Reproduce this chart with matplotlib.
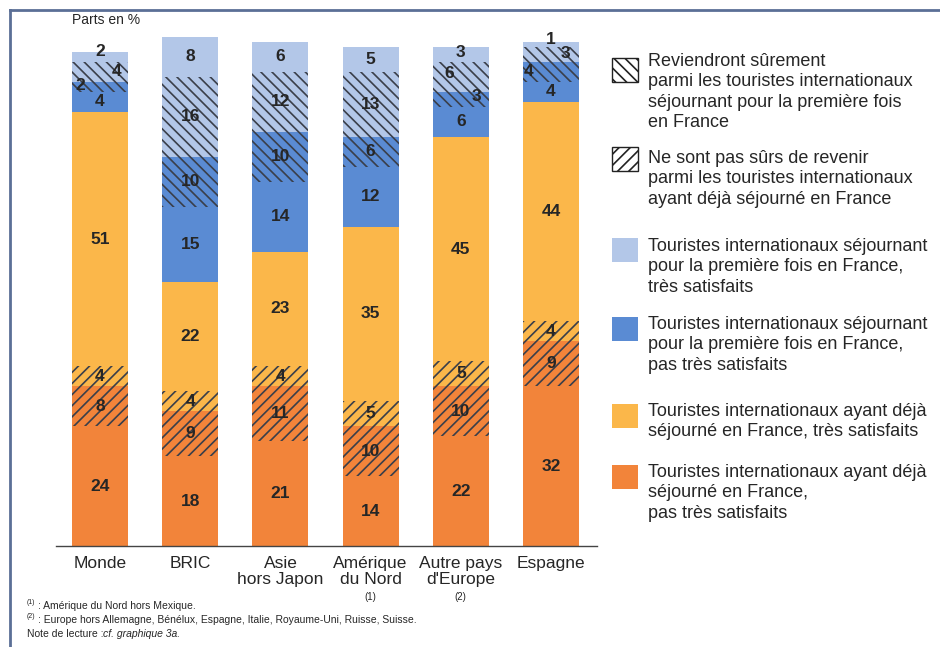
import matplotlib.pyplot as plt
from matplotlib.patches import Rectangle

plt.rcParams['font.family'] = ['Liberation Sans', 'DejaVu Sans']
plt.rcParams['hatch.linewidth'] = 1.2

# regions (x axis)
regions = ['Monde', 'BRIC', 'Asie\nhors Japon', 'Amérique\ndu Nord',
           "Autre pays\nd'Europe", 'Espagne']
region_notes = ['', '', '', '(1)', '(2)', '']

# stacked shares in %, bottom to top
deja_pas_sat = [24, 18, 21, 14, 22, 32]
deja_pas_sat_incertain = [8, 9, 11, 10, 10, 9]
deja_sat_incertain = [4, 4, 4, 5, 5, 4]
deja_sat = [51, 22, 23, 35, 45, 44]
prem_pas_sat = [4, 15, 14, 12, 6, 4]
prem_pas_sat_surement = [2, 10, 10, 6, 3, 4]
prem_sat_surement = [4, 16, 12, 13, 6, 3]
prem_sat = [2, 8, 6, 5, 3, 1]

C_ORANGE = '#f2843a'
C_YELLOW = '#fbb74a'
C_BLUE = '#5a8bd3'
C_LBLUE = '#b3c7e8'
HATCH_COL = '#3a3f4a'
TXT = '#262626'

segments = [
    (deja_pas_sat, C_ORANGE, None),
    (deja_pas_sat_incertain, C_ORANGE, '///'),
    (deja_sat_incertain, C_YELLOW, '///'),
    (deja_sat, C_YELLOW, None),
    (prem_pas_sat, C_BLUE, None),
    (prem_pas_sat_surement, C_BLUE, '\\\\\\'),
    (prem_sat_surement, C_LBLUE, '\\\\\\'),
    (prem_sat, C_LBLUE, None),
]

# label nudges (pixels) for the thin segments at the top of some bars
nudges = {
    (0, 7): (0, 5), (0, 6): (17, 0), (0, 5): (-20, 1),
    (4, 7): (0, 2), (4, 6): (-12, 3), (4, 5): (16, 3),
    (5, 7): (0, 5), (5, 6): (14, 1), (5, 5): (-22, 0),
}

fig = plt.figure(figsize=(9.4, 6.47), dpi=100)
ax = fig.add_axes([56 / 940, 101 / 647, 541 / 940, 499 / 647])

x = list(range(len(regions)))
bottom = [0] * len(regions)
for k, (vals, col, hatch) in enumerate(segments):
    ax.bar(x, vals, 0.62, bottom=bottom, color=col, hatch=hatch,
           edgecolor=HATCH_COL if hatch else col, linewidth=0, clip_on=False)
    for i, v in enumerate(vals):
        dx, dy = nudges.get((i, k), (0, 0))
        ax.annotate(str(v), (i, bottom[i] + v / 2), xytext=(dx, dy),
                    textcoords='offset pixels', ha='center', va='center',
                    fontsize=12.5, fontweight='bold', color=TXT,
                    annotation_clip=False)
    bottom = [b + v for b, v in zip(bottom, vals)]

ax.set_xlim(-0.488, 5.51)
ax.set_ylim(0, 100)
for s in ['top', 'right', 'left']:
    ax.spines[s].set_visible(False)
ax.spines['bottom'].set_color('#444444')
ax.spines['bottom'].set_linewidth(1.0)
ax.set_yticks([])
ax.set_xticks(x)
ax.set_xticklabels(regions, fontsize=12.5, color=TXT, linespacing=1.12, va='top')
ax.tick_params(axis='x', length=0, pad=7)
for i, note in enumerate(region_notes):
    if note:
        ax.annotate(note, (i, 0), xycoords=('data', 'axes fraction'),
                    xytext=(0, -51), textcoords='offset pixels',
                    ha='center', va='center', fontsize=7, color=TXT)

# overlay in pixel coordinates for frame, legend and notes
lay = fig.add_axes([0, 0, 1, 1], zorder=-1)
lay.set_xlim(0, 940)
lay.set_ylim(647, 0)
lay.axis('off')
lay.plot([10, 940], [10, 10], color='#5b6f96', lw=2)
lay.plot([10, 10], [10, 647], color='#5b6f96', lw=2)

fig.text(72 / 940, 1 - 20 / 647, 'Parts en %', fontsize=10, color=TXT,
         va='center')

leg = fig.add_axes([0, 0, 1, 1], zorder=2)
leg.set_xlim(0, 940)
leg.set_ylim(647, 0)
leg.axis('off')
# (box top, first text line centre, colour, hatch, label)
legend_items = [
    (58, 60, 'white', '\\\\\\', 'Reviendront sûrement\nparmi les touristes internationaux\n'
                               'séjournant pour la première fois\nen France'),
    (147, 157, 'white', '///', 'Ne sont pas sûrs de revenir\nparmi les touristes internationaux\n'
                              'ayant déjà séjourné en France'),
    (238, 245, C_LBLUE, None, 'Touristes internationaux séjournant\npour la première fois en France,\n'
                              'très satisfaits'),
    (317, 323, C_BLUE, None, 'Touristes internationaux séjournant\npour la première fois en France,\n'
                             'pas très satisfaits'),
    (404, 410, C_YELLOW, None, 'Touristes internationaux ayant déjà\nséjourné en France, très satisfaits'),
    (465, 471, C_ORANGE, None, 'Touristes internationaux ayant déjà\nséjourné en France,\n'
                               'pas très satisfaits'),
]
for y, ty, col, hatch, label in legend_items:
    leg.add_patch(Rectangle((612, y), 26, 24, facecolor=col, hatch=hatch,
                            edgecolor='#222222' if hatch else col,
                            linewidth=1 if hatch else 0))
    leg.text(648, ty - 7, label, fontsize=13, color=TXT, va='top', ha='left',
             linespacing=1.26)

# footnotes
notes_font = ['Liberation Sans Narrow', 'Liberation Sans']
leg.text(27, 603, '(1)', fontsize=5, color=TXT, family=notes_font, va='center')
leg.text(38, 606, ': Amérique du Nord hors Mexique.', fontsize=7.5, color=TXT,
         family=notes_font, va='center')
leg.text(27, 617, '(2)', fontsize=5, color=TXT, family=notes_font, va='center')
leg.text(38, 620, ': Europe hors Allemagne, Bénélux, Espagne, Italie, Royaume-Uni, '
         'Ruisse, Suisse.', fontsize=7.5, color=TXT, family=notes_font, va='center')
leg.text(27, 634, 'Note de lecture : ', fontsize=7.5, color=TXT,
         family=notes_font, va='center')
leg.text(103, 634, 'cf. graphique 3a.', fontsize=7.5, color=TXT,
         family=notes_font, style='italic', va='center')

fig.savefig('out.png', dpi=100, facecolor='white')
